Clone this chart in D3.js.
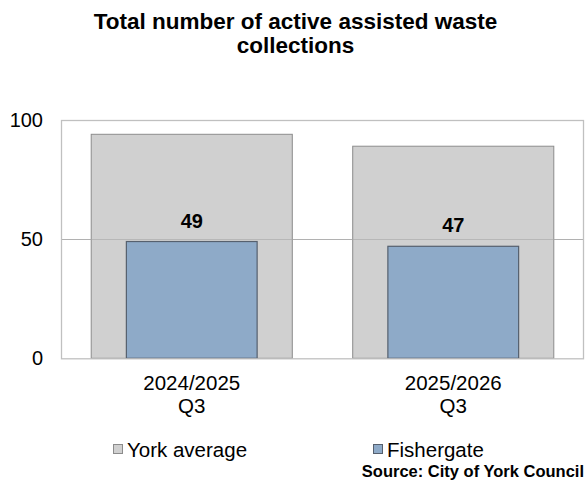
<!DOCTYPE html>
<html>
<head>
<meta charset="utf-8">
<script src="https://cdn.jsdelivr.net/npm/d3@7"></script>
<style>
  html, body { margin: 0; padding: 0; background: #fff; }
  svg { display: block; font-family: "Liberation Sans", Arial, sans-serif; }
</style>
</head>
<body>
<svg id="chart" width="586" height="488"></svg>
<script>
const categories = [["2024/2025", "Q3"], ["2025/2026", "Q3"]];
const categoryKeys = ["2024/2025 Q3", "2025/2026 Q3"];
const yorkAverage = [94, 89];
const fishergate = [49, 47];
const yTicks = [0, 50, 100];
const seriesNames = ["York average", "Fishergate"];
const titleLines = ["Total number of active assisted waste", "collections"];
const sourceText = "Source: City of York Council";

const svg = d3.select("#chart");
const plot = { left: 61, right: 584, top: 120, bottom: 358.3 };

const y = d3.scaleLinear().domain([0, 100]).range([plot.bottom, plot.top]);
const xOuter = d3.scaleBand().domain(categoryKeys).range([plot.left, plot.right])
  .paddingInner(0.231).paddingOuter(0.1155);
const xInner = d3.scaleBand().domain(categoryKeys).range([plot.left, plot.right])
  .paddingInner(0.5).paddingOuter(0.25);

// Title
svg.append("g").selectAll("text").data(titleLines).join("text")
  .attr("x", 295.5).attr("y", (d, i) => 29 + i * 24)
  .attr("text-anchor", "middle")
  .attr("font-size", 22.5).attr("font-weight", "bold").attr("fill", "#000")
  .text(d => d);

// Gridline at 50
svg.append("g").selectAll("line").data(yTicks.filter(t => t > 0 && t < 100)).join("line")
  .attr("x1", plot.left).attr("x2", plot.right)
  .attr("y1", d => Math.round(y(d)) + 0.5).attr("y2", d => Math.round(y(d)) + 0.5)
  .attr("stroke", "#bfbfbf").attr("stroke-width", 1);

// York average bars
svg.append("g").selectAll("rect").data(yorkAverage).join("rect")
  .attr("x", (d, i) => xOuter(categoryKeys[i]))
  .attr("y", d => y(d))
  .attr("width", xOuter.bandwidth())
  .attr("height", d => plot.bottom - y(d))
  .attr("fill", "#d0d0d0")
  .attr("stroke", "#8c8c8c").attr("stroke-width", 1);

// gridline visible over grey bars
svg.append("g").selectAll("line").data(yTicks.filter(t => t > 0 && t < 100)).join("line")
  .attr("x1", plot.left).attr("x2", plot.right)
  .attr("y1", d => Math.round(y(d)) + 0.5).attr("y2", d => Math.round(y(d)) + 0.5)
  .attr("stroke", "#a8a8a8").attr("stroke-width", 1).attr("opacity", 0.6);

// Fishergate bars
svg.append("g").selectAll("rect").data(fishergate).join("rect")
  .attr("x", (d, i) => xInner(categoryKeys[i]))
  .attr("y", d => y(d))
  .attr("width", xInner.bandwidth())
  .attr("height", d => plot.bottom - y(d))
  .attr("fill", "#8eaac8")
  .attr("stroke", "#56606e").attr("stroke-width", 1.2);

// Plot border
svg.append("rect")
  .attr("x", plot.left + 0.5).attr("y", plot.top + 0.5)
  .attr("width", plot.right - plot.left - 1).attr("height", plot.bottom - plot.top)
  .attr("fill", "none").attr("stroke", "#c0c0c0").attr("stroke-width", 1.3);

// Data labels
svg.append("g").selectAll("text").data(fishergate).join("text")
  .attr("x", (d, i) => xInner(categoryKeys[i]) + xInner.bandwidth() / 2)
  .attr("y", d => y(d) - 14)
  .attr("text-anchor", "middle")
  .attr("font-size", 20).attr("font-weight", "bold").attr("fill", "#000")
  .text(d => d);

// Y axis
const yAxis = d3.axisLeft(y).tickValues(yTicks).tickSize(0).tickPadding(18);
const yg = svg.append("g").attr("transform", `translate(${plot.left},0)`).call(yAxis);
yg.select(".domain").remove();
yg.selectAll("text").attr("font-size", 20).attr("fill", "#000")
  .attr("font-family", "'Liberation Sans', Arial, sans-serif");

// X axis labels (two lines)
const xAxis = d3.axisBottom(xOuter).tickSize(0).tickFormat(() => "");
const xg = svg.append("g").attr("transform", `translate(0,${plot.bottom})`).call(xAxis);
xg.select(".domain").remove();
xg.selectAll(".tick").each(function(d, i) {
  const t = d3.select(this).append("text")
    .attr("text-anchor", "middle").attr("fill", "#000")
    .attr("font-size", 20.5)
    .attr("font-family", "'Liberation Sans', Arial, sans-serif");
  categories[i].forEach((line, j) => {
    t.append("tspan").attr("x", 0).attr("y", 31.7 + j * 23.3).text(line);
  });
});

// Legend
const legendX = [113, 373];
const legendColors = [["#d0d0d0", "#8c8c8c"], ["#8eaac8", "#56606e"]];
const lg = svg.append("g");
seriesNames.forEach((name, i) => {
  lg.append("rect")
    .attr("x", legendX[i] + 0.5).attr("y", 444.5)
    .attr("width", 9).attr("height", 9)
    .attr("fill", legendColors[i][0]).attr("stroke", legendColors[i][1]).attr("stroke-width", 1);
  lg.append("text")
    .attr("x", legendX[i] + 14).attr("y", 457)
    .attr("font-size", 20.5).attr("fill", "#000")
    .text(name);
});

// Source
svg.append("text")
  .attr("x", 584).attr("y", 476.5)
  .attr("text-anchor", "end")
  .attr("font-size", 16.5).attr("font-weight", "bold").attr("fill", "#000")
  .text(sourceText);
</script>
</body>
</html>
